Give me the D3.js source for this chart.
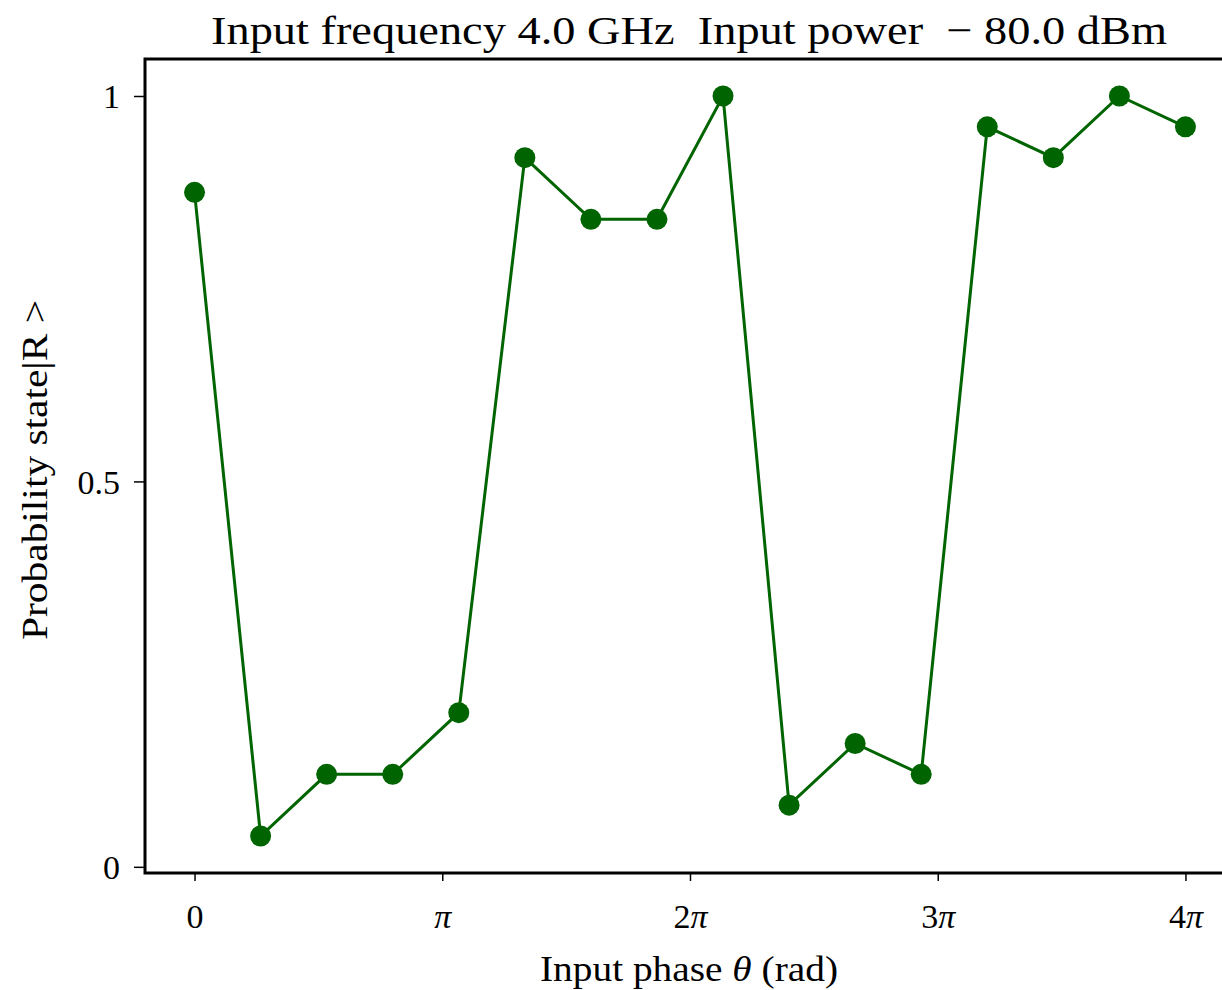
<!DOCTYPE html>
<html>
<head>
<meta charset="utf-8">
<script src="https://cdn.jsdelivr.net/npm/d3@7"></script>
<style>
  html, body { margin: 0; padding: 0; background: #fff; }
  svg text { font-family: "Liberation Serif", "DejaVu Serif", serif; fill: #000; }
</style>
</head>
<body>
<div id="chart"></div>
<script>
// Dados
const phaseSteps = d3.range(16);               // índice do ponto: fase = i * 4π/15
const probR = [0.875, 0.04, 0.12, 0.12, 0.20, 0.92, 0.84, 0.84,
               1.00, 0.08, 0.16, 0.12, 0.96, 0.92, 1.00, 0.96];
const xTickMultiples = [0, 1, 2, 3, 4];        // múltiplos de π
const yTicks = [0, 0.5, 1];
const yTickLabels = ['0', '0.5', '1'];

const width = 1222, height = 990;
const axLeft = 145, axRight = 1235, axTop = 59, axBottom = 873;
const color = '#006400';

const svg = d3.select('#chart')
  .append('svg')
  .attr('width', width)
  .attr('height', height);

// Escalas (margens de 5% como no matplotlib)
const x = d3.scaleLinear()
  .domain([-0.2 * Math.PI, 4.2 * Math.PI])
  .range([axLeft, axRight]);

const y = d3.scaleLinear()
  .domain([-0.008, 1.048])
  .range([axBottom, axTop]);

const points = phaseSteps.map(i => ({ phase: i * 4 * Math.PI / 15, p: probR[i] }));

// Eixo X
const xAxis = d3.axisBottom(x)
  .tickValues(xTickMultiples.map(k => k * Math.PI))
  .tickSize(8)
  .tickPadding(10)
  .tickFormat('');

const gx = svg.append('g')
  .attr('transform', `translate(0,${axBottom})`)
  .call(xAxis);
gx.select('.domain').remove();
gx.selectAll('.tick line').attr('stroke', '#000').attr('stroke-width', 1.5);

gx.selectAll('.tick').each(function(d, i) {
  const k = xTickMultiples[i];
  const t = d3.select(this).append('text')
    .attr('y', 55)
    .attr('text-anchor', 'middle')
    .attr('font-size', 34);
  if (k === 0) {
    t.text('0');
  } else {
    if (k > 1) t.append('tspan').text(k);
    t.append('tspan').attr('font-style', 'italic').text('π');
  }
});

// Eixo Y
const yAxis = d3.axisLeft(y)
  .tickValues(yTicks)
  .tickSize(11)
  .tickPadding(14)
  .tickFormat((d, i) => yTickLabels[i]);

const gy = svg.append('g')
  .attr('transform', `translate(${axLeft},0)`)
  .call(yAxis);
gy.select('.domain').remove();
gy.selectAll('.tick line').attr('stroke', '#000').attr('stroke-width', 1.5);
gy.selectAll('.tick text')
  .attr('font-size', 34)
  .attr('font-family', '"Liberation Serif", serif')
  .attr('dy', '0.35em');

// Linha + marcadores
svg.append('path')
  .datum(points)
  .attr('fill', 'none')
  .attr('stroke', color)
  .attr('stroke-width', 3)
  .attr('d', d3.line().x(d => x(d.phase)).y(d => y(d.p)));

svg.append('g')
  .selectAll('circle')
  .data(points)
  .enter()
  .append('circle')
  .attr('cx', d => x(d.phase))
  .attr('cy', d => y(d.p))
  .attr('r', 10.5)
  .attr('fill', color);

// Moldura dos eixos
svg.append('rect')
  .attr('x', axLeft)
  .attr('y', axTop)
  .attr('width', axRight - axLeft)
  .attr('height', axBottom - axTop)
  .attr('fill', 'none')
  .attr('stroke', '#000')
  .attr('stroke-width', 3);

// Título (largura esticada para imitar a fonte Computer Modern)
svg.append('text')
  .attr('x', 689)
  .attr('y', 44)
  .attr('text-anchor', 'middle')
  .attr('font-size', 41)
  .attr('textLength', 956)
  .attr('lengthAdjust', 'spacingAndGlyphs')
  .text('Input frequency 4.0 GHz\u2002Input power\u2002\u2212 80.0 dBm');

// Rótulo X
const xl = svg.append('text')
  .attr('x', 689)
  .attr('y', 981)
  .attr('text-anchor', 'middle')
  .attr('font-size', 35)
  .attr('textLength', 298)
  .attr('lengthAdjust', 'spacingAndGlyphs');
xl.append('tspan').text('Input phase ');
xl.append('tspan').attr('font-style', 'italic').text('θ');
xl.append('tspan').text(' (rad)');

// Rótulo Y
svg.append('text')
  .attr('transform', `translate(47,470) rotate(-90)`)
  .attr('text-anchor', 'middle')
  .attr('font-size', 35)
  .attr('textLength', 340)
  .attr('lengthAdjust', 'spacingAndGlyphs')
  .text('Probability state|R >');
</script>
</body>
</html>
